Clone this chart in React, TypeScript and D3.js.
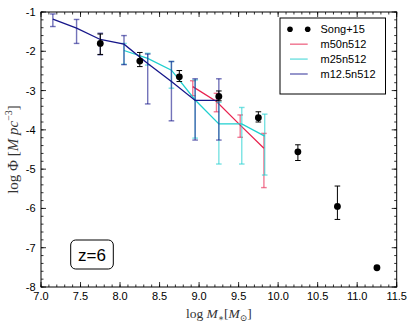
import React from "react";
import * as d3 from "d3";

const songX = [7.75, 8.25, 8.75, 9.25, 9.75, 10.25, 10.75, 11.25];
const songY = [-1.80, -2.25, -2.65, -3.15, -3.69, -4.56, -5.95, -7.51];
const songHi = [-1.56, -2.03, -2.49, -3.01, -3.54, -4.38, -5.43, -7.51];
const songLo = [-2.08, -2.39, -2.77, -3.26, -3.80, -4.78, -6.28, -7.51];

const navyX = [7.15, 7.45, 7.75, 8.05, 8.35, 8.65, 8.95, 9.25];
const navyY = [-1.18, -1.41, -1.70, -1.82, -2.31, -2.77, -3.25, -3.25];
const navyHi = [-1.05, -1.19, -1.54, -1.60, -2.07, -2.26, -2.70, -2.70];
const navyLo = [-1.37, -1.80, -2.09, -2.34, -3.34, -3.77, -4.26, -4.26];

const cyanX = [8.05, 8.35, 8.65, 8.95, 9.25, 9.54, 9.83];
const cyanY = [-1.98, -2.18, -2.48, -3.24, -3.85, -3.85, -4.16];
const cyanHi = [-1.80, -2.05, -2.26, -2.73, -3.30, -3.43, -3.60];
const cyanLo = [-2.33, -2.35, -2.94, -4.21, -4.87, -4.87, -5.15];

const redX = [8.92, 9.22, 9.52, 9.82];
const redY = [-2.90, -3.28, -3.88, -4.47];
const redHi = [-2.75, -3.07, -3.62, -4.09];
const redLo = [-3.13, -3.54, -4.19, -5.47];

const xTicks = [7.0, 7.5, 8.0, 8.5, 9.0, 9.5, 10.0, 10.5, 11.0, 11.5];
const yTicks = [-1, -2, -3, -4, -5, -6, -7, -8];
const legendLabels = ["Song+15", "m50n512", "m25n512", "m12.5n512"];

const RED = "#e8234f";
const CYAN = "#1fcfcf";
const NAVY = "#16168a";

const L = 41, R = 396.7, T = 12, B = 287;
const x = d3.scaleLinear().domain([7, 11.5]).range([L, R]);
const y = d3.scaleLinear().domain([-8, -1]).range([B, T]);

const tickFont = "'Liberation Sans', Arial, sans-serif";
const serif = "'Liberation Serif', 'DejaVu Serif', serif";

function Series({ xs, ys, hi, lo, color }: { xs: number[]; ys: number[]; hi: number[]; lo: number[]; color: string }) {
  const line = d3.line<number>().x((_, i) => x(xs[i])).y((v) => y(v));
  return (
    <g>
      {xs.map((xv, i) => (
        <g key={i} stroke={color} strokeOpacity={0.6} strokeWidth={1.4}>
          <line x1={x(xv)} x2={x(xv)} y1={y(hi[i])} y2={y(lo[i])} />
          <line x1={x(xv) - 2.8} x2={x(xv) + 2.8} y1={y(hi[i])} y2={y(hi[i])} />
          <line x1={x(xv) - 2.8} x2={x(xv) + 2.8} y1={y(lo[i])} y2={y(lo[i])} />
        </g>
      ))}
      <path d={line(ys) || ""} fill="none" stroke={color} strokeWidth={1.3} />
    </g>
  );
}

export default function App() {
  const xMinor = d3.range(7, 11.5001, 0.1);
  const yMinor = d3.range(-8, -0.999, 0.2);
  return (
    <svg width={415} height={328} style={{ position: "absolute", left: 0, top: 0, background: "#fff" }}>
      <rect x={0} y={0} width={415} height={328} fill="#fff" />
      <Series xs={redX} ys={redY} hi={redHi} lo={redLo} color={RED} />
      <Series xs={cyanX} ys={cyanY} hi={cyanHi} lo={cyanLo} color={CYAN} />
      <Series xs={navyX} ys={navyY} hi={navyHi} lo={navyLo} color={NAVY} />
      {songX.map((xv, i) => (
        <g key={i}>
          {songHi[i] !== songLo[i] && (
            <g stroke="#000" strokeWidth={1}>
              <line x1={x(xv)} x2={x(xv)} y1={y(songHi[i])} y2={y(songLo[i])} />
              <line x1={x(xv) - 2.8} x2={x(xv) + 2.8} y1={y(songHi[i])} y2={y(songHi[i])} />
              <line x1={x(xv) - 2.8} x2={x(xv) + 2.8} y1={y(songLo[i])} y2={y(songLo[i])} />
            </g>
          )}
          <circle cx={x(xv)} cy={y(songY[i])} r={3.4} fill="#000" />
        </g>
      ))}
      {/* frame */}
      <rect x={L} y={T} width={R - L} height={B - T} fill="none" stroke="#000" strokeWidth={1} />
      {/* ticks */}
      <g stroke="#000" strokeWidth={0.8}>
        {xMinor.map((v, i) => (
          <g key={"xm" + i}>
            <line x1={x(v)} x2={x(v)} y1={B} y2={B - 2.5} />
            <line x1={x(v)} x2={x(v)} y1={T} y2={T + 2.5} />
          </g>
        ))}
        {xTicks.map((v, i) => (
          <g key={"xM" + i}>
            <line x1={x(v)} x2={x(v)} y1={B} y2={B - 5} />
            <line x1={x(v)} x2={x(v)} y1={T} y2={T + 5} />
          </g>
        ))}
        {yMinor.map((v, i) => (
          <g key={"ym" + i}>
            <line x1={L} x2={L + 2.5} y1={y(v)} y2={y(v)} />
            <line x1={R} x2={R - 2.5} y1={y(v)} y2={y(v)} />
          </g>
        ))}
        {yTicks.map((v, i) => (
          <g key={"yM" + i}>
            <line x1={L} x2={L + 5} y1={y(v)} y2={y(v)} />
            <line x1={R} x2={R - 5} y1={y(v)} y2={y(v)} />
          </g>
        ))}
      </g>
      <g fontFamily={tickFont} fontSize={11} fill="#000">
        {xTicks.map((v, i) => (
          <text key={"xl" + i} x={x(v)} y={300} textAnchor="middle">{v.toFixed(1)}</text>
        ))}
        {yTicks.map((v, i) => (
          <text key={"yl" + i} x={35.5} y={y(v) + 4} textAnchor="end">{String(v)}</text>
        ))}
      </g>
      {/* axis labels */}
      <text x={(L + R) / 2} y={318} textAnchor="middle" fontFamily={serif} fontSize={13.5} fill="#333">
        log <tspan fontStyle="italic">M</tspan>
        <tspan fontSize={9} dy={3}>∗</tspan>
        <tspan dy={-3}>[</tspan>
        <tspan fontStyle="italic">M</tspan>
        <tspan fontSize={9} dy={3}>⊙</tspan>
        <tspan dy={-3}>]</tspan>
      </text>
      <text transform={`translate(18, ${(T + B) / 2}) rotate(-90)`} textAnchor="middle" fontFamily={serif} fontSize={15} fill="#333">
        log Φ [<tspan fontStyle="italic">M pc</tspan>
        <tspan fontSize={10} dy={-6}>−3</tspan>
        <tspan dy={6}>]</tspan>
      </text>
      {/* legend */}
      <rect x={280} y={18} width={105.5} height={76} fill="#fff" stroke="#000" strokeWidth={1} />
      <g fontFamily={tickFont} fontSize={11} fill="#000">
        {legendLabels.map((lab, i) => {
          const ly = 29.3 + i * 14.9;
          const colors = ["#000", RED, CYAN, NAVY];
          return (
            <g key={lab}>
              {i === 0 ? (
                <g>
                  <circle cx={290} cy={ly} r={2.8} fill="#000" />
                  <circle cx={307.7} cy={ly} r={2.8} fill="#000" />
                </g>
              ) : (
                <line x1={290} x2={307.7} y1={ly} y2={ly} stroke={colors[i]} strokeOpacity={0.6} strokeWidth={1.5} />
              )}
              <text x={320.5} y={ly + 4}>{lab}</text>
            </g>
          );
        })}
      </g>
      {/* z label */}
      <rect x={70.7} y={240} width={42.6} height={29} rx={5} ry={5} fill="#fff" stroke="#000" strokeWidth={1} />
      <text x={92} y={261} textAnchor="middle" fontFamily={tickFont} fontSize={17} fill="#000">z=6</text>
    </svg>
  );
}
